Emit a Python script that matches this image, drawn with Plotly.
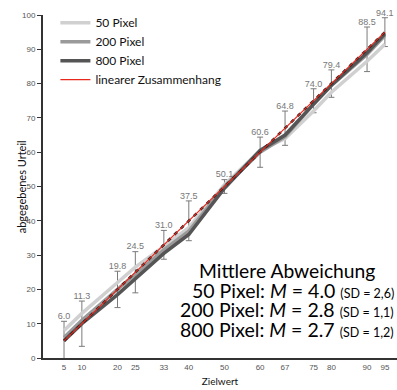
import plotly.graph_objects as go

# --- data ---
targets = [5, 10, 20, 25, 33, 40, 50, 60, 67, 75, 80, 90, 95]
mean_labels = ["6.0", "11.3", "19.8", "24.5", "31.0", "37.5", "50.1", "60.6", "64.8", "74.0", "79.4", "88.5", "94.1"]
err_half = [5.7, 6.6, 5.3, 6.0, 4.2, 5.8, 2.0, 4.4, 5.0, 3.5, 4.0, 6.5, 4.2]
px50 = [8.0, 13.0, 22.0, 26.5, 32.5, 38.0, 50.5, 60.5, 64.0, 72.0, 77.5, 86.5, 91.5]
px200 = [6.0, 11.0, 20.0, 24.5, 31.5, 37.0, 50.0, 60.0, 64.5, 74.0, 79.5, 88.5, 94.0]
px800 = [5.0, 10.0, 18.5, 23.0, 30.5, 36.0, 49.5, 60.5, 65.0, 74.0, 79.5, 89.0, 94.5]
y_ticks = [0, 10, 20, 30, 40, 50, 60, 70, 80, 90, 100]

LABEL_FONT = "Lato, 'Open Sans', sans-serif"
TICK_FONT = "'Liberation Sans', Arial, sans-serif"

fig = go.Figure()

# error bars centred on target values
fig.add_trace(go.Scatter(
    x=targets, y=targets, mode="markers",
    marker=dict(size=1, color="rgba(0,0,0,0)"),
    error_y=dict(type="data", array=err_half, visible=True,
                 color="#7a7a7a", thickness=1, width=3),
    showlegend=False, hoverinfo="skip", cliponaxis=False))

fig.add_trace(go.Scatter(x=targets, y=px50, mode="lines", name="50 Pixel",
                         line=dict(color="#d0d0d0", width=3.5)))
fig.add_trace(go.Scatter(x=targets, y=px200, mode="lines", name="200 Pixel",
                         line=dict(color="#9a9a9a", width=3.5)))
fig.add_trace(go.Scatter(x=targets, y=px800, mode="lines", name="800 Pixel",
                         line=dict(color="#555555", width=3.5)))

# linear relation y = x
fig.add_trace(go.Scatter(x=targets, y=targets, mode="lines",
                         line=dict(color="#222222", width=2.5, dash="4px,5px"),
                         showlegend=False, hoverinfo="skip"))
fig.add_trace(go.Scatter(x=targets, y=targets, mode="lines", name="linearer Zusammenhang",
                         line=dict(color="#e8281c", width=1.3)))

# value labels above the error bars
fig.add_trace(go.Scatter(
    x=targets, y=[t + e for t, e in zip(targets, err_half)],
    mode="text", text=mean_labels, textposition="top center",
    textfont=dict(family=TICK_FONT, size=9, color="#777777"),
    showlegend=False, hoverinfo="skip", cliponaxis=False))

fig.update_layout(
    width=397, height=390,
    margin=dict(l=43, r=0, t=15, b=32, autoexpand=False),
    plot_bgcolor="white", paper_bgcolor="white",
    showlegend=True,
    legend=dict(x=0.035, y=1.02, xanchor="left", yanchor="top",
                font=dict(family=LABEL_FONT, size=12, color="#111111"),
                bgcolor="rgba(0,0,0,0)", tracegroupgap=0),
)

fig.update_xaxes(
    range=[-0.9, 98.4], showgrid=False, zeroline=False,
    tickvals=targets, ticktext=[str(t) for t in targets],
    ticks="", showline=True, linecolor="#333333", linewidth=2,
    tickfont=dict(family=TICK_FONT, size=8, color="#555555"),
    title=dict(text="Zielwert", font=dict(family=LABEL_FONT, size=10, color="#111111"), standoff=7),
)
fig.update_yaxes(
    range=[0, 100], showgrid=False, zeroline=False,
    tickvals=y_ticks, ticks="outside", ticklen=4, tickcolor="#333333", tickwidth=1,
    showline=True, linecolor="#333333", linewidth=2,
    tickfont=dict(family=TICK_FONT, size=8, color="#555555"),
)

# y-axis title placed as annotation
fig.add_annotation(xref="paper", yref="paper", x=-0.06, y=0.5, xanchor="center", yanchor="middle",
                   text="abgegebenes Urteil", textangle=-90, showarrow=False,
                   font=dict(family=LABEL_FONT, size=11, color="#111111"))

# summary text
fig.add_annotation(xref="paper", yref="paper", x=0.69, y=0.256, xanchor="center", yanchor="middle",
                   text="Mittlere Abweichung", showarrow=False,
                   font=dict(family=LABEL_FONT, size=19.3, color="#000000"))
summary = [
    ("50 Pixel", "4.0", "2,6"),
    ("200 Pixel", "2.8", "1,1"),
    ("800 Pixel", "2.7", "1,2"),
]
for i, (lab, m, sd) in enumerate(summary):
    fig.add_annotation(
        xref="paper", yref="paper", x=1.0, y=0.198 - i * 0.058, xshift=-1,
        xanchor="right", yanchor="middle", showarrow=False,
        text=f"{lab}: <i>M</i> = {m} <span style='font-size:12.5px'>(SD = {sd})</span>",
        font=dict(family=LABEL_FONT, size=19.5, color="#000000"))

fig.write_html("out.html", config={"displayModeBar": False},
               post_script="document.body.style.margin='0px';")
